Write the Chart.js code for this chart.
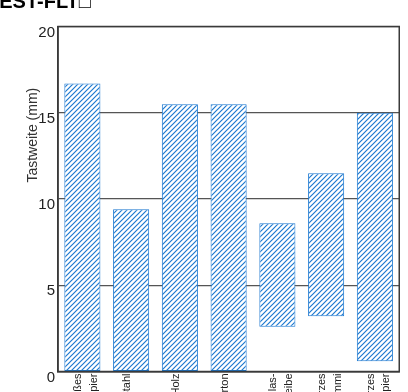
<!DOCTYPE html>
<html>
<head>
<meta charset="utf-8">
<script src="https://cdn.jsdelivr.net/npm/chart.js@4.4.1/dist/chart.umd.min.js"></script>
<style>
  html, body { margin: 0; padding: 0; width: 408px; height: 392px; overflow: hidden; background: #fff; }
  #wrap { position: absolute; left: -13px; top: -10px; width: 421px; height: 470px; }
</style>
</head>
<body>
<div id="wrap"><canvas id="c" width="421" height="470"></canvas></div>
<script>
// ---- data ----
const chartTitle = "TEST-FLT\u25A1";
const yAxisTitle = "Tastweite (mm)";
const categories = [["weißes", "Papier"], "Stahl", "Holz", "Karton", ["Glas-", "scheibe"], ["schwarzes", "Gummi"], ["schwarzes", "Papier"]];
const rangeLow  = [0, 0, 0, 0, 2.6, 3.2, 0.6];
const rangeHigh = [16.7, 9.4, 15.5, 15.5, 8.6, 11.5, 15.0];
const yMin = 0, yMax = 20, yStep = 5;

// ---- style ----
const BLUE = '#1c78d0';
const FONT = "'Liberation Sans', Arial, 'DejaVu Sans', sans-serif";

function hatch() {
  const s = 5;
  const c = document.createElement('canvas');
  c.width = s; c.height = s;
  const g = c.getContext('2d');
  g.fillStyle = '#fff';
  g.fillRect(0, 0, s, s);
  g.strokeStyle = BLUE;
  g.lineWidth = 1.2;
  g.beginPath();
  g.moveTo(-1, s + 1); g.lineTo(s + 1, -1);
  g.moveTo(-1, 1); g.lineTo(1, -1);
  g.moveTo(s - 1, s + 1); g.lineTo(s + 1, s - 1);
  g.stroke();
  return g.createPattern(c, 'repeat');
}

const frame = {
  id: 'frame',
  afterDraw(chart) {
    const { ctx, chartArea: a } = chart;
    ctx.save();
    ctx.strokeStyle = '#3a3a3a';
    ctx.lineWidth = 1.5;
    ctx.strokeRect(a.left, a.top, a.right - a.left, a.bottom - a.top);
    // y axis title
    ctx.fillStyle = '#333';
    ctx.font = "14px " + FONT;
    ctx.textAlign = 'center';
    ctx.textBaseline = 'middle';
    ctx.translate(a.left - 25, a.top + 0.315 * (a.bottom - a.top));
    ctx.rotate(-Math.PI / 2);
    ctx.fillText(yAxisTitle, 0, 0);
    ctx.restore();
  }
};

new Chart(document.getElementById('c'), {
  type: 'bar',
  data: {
    labels: categories,
    datasets: [{
      data: rangeLow.map((v, i) => [v, rangeHigh[i]]),
      backgroundColor: hatch(),
      borderColor: BLUE,
      borderWidth: 1,
      borderSkipped: false,
      barPercentage: 0.74,
      categoryPercentage: 1.0
    }]
  },
  options: {
    responsive: false,
    animation: false,
    devicePixelRatio: 1,
    layout: { padding: { left: 0, right: 4.5, top: 0, bottom: 0 } },
    plugins: {
      legend: { display: false },
      tooltip: { enabled: false },
      title: {
        display: true,
        text: chartTitle,
        align: 'start',
        color: '#000',
        font: { family: FONT, size: 20, weight: 'bold', lineHeight: 1.2 },
        padding: { top: 0, bottom: 12.5 }
      }
    },
    scales: {
      x: {
        grid: { display: false, drawTicks: false },
        border: { display: true, color: '#3a3a3a', width: 1.5 },
        ticks: {
          autoSkip: false,
          minRotation: 90,
          maxRotation: 90,
          padding: 2,
          labelOffset: -4,
          color: '#222',
          font: { family: FONT, size: 11, lineHeight: 1.4 }
        },
        afterFit(scale) { scale.height = 88.5; }
      },
      y: {
        z: 1,
        min: yMin,
        max: yMax,
        grid: { color: '#555', lineWidth: 1.2, drawTicks: false },
        border: { display: true, color: '#3a3a3a', width: 1.5 },
        ticks: {
          stepSize: yStep,
          padding: 3,
          labelOffset: 6,
          color: '#222',
          font: { family: FONT, size: 15 }
        },
        afterFit(scale) { scale.width = 71; }
      }
    }
  },
  plugins: [frame]
});
</script>
</body>
</html>
